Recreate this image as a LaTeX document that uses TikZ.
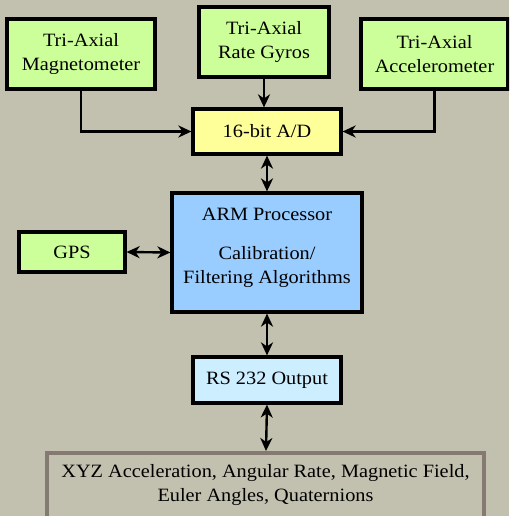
\documentclass[tikz,border=0pt]{standalone}
\usepackage{fontspec}
\setmainfont{Liberation Serif}[FakeStretch=1.08]
\usetikzlibrary{arrows.meta}
\definecolor{bg}{RGB}{194,192,174}
\definecolor{grn}{RGB}{204,255,153}
\definecolor{yel}{RGB}{255,255,153}
\definecolor{blu}{RGB}{153,204,255}
\definecolor{lblu}{RGB}{204,238,255}
\definecolor{gbord}{RGB}{133,122,114}
\tikzset{
  txt/.style={font=\fontsize{18.8}{24}\selectfont},
  blk/.style={draw=black, line width=3.2pt, inner sep=0pt, align=center, txt},
  tip/.tip={Stealth[length=13pt,width=12pt,inset=4pt]},
  conn/.style={line width=2.4pt, -tip},
  dconn/.style={line width=2.4pt, tip-tip},
}
\begin{document}
\begin{tikzpicture}[x=1pt,y=-1pt]
\useasboundingbox (0,0) rectangle (509,516);
\fill[bg] (0,0) rectangle (509,516);
\clip (0,0) rectangle (509,516);
\node[blk, fill=grn, minimum width=148pt, minimum height=70pt] (mag) at (81,54) {Tri-Axial\\Magnetometer};
\node[blk, fill=grn, minimum width=130pt, minimum height=70pt] (gyr) at (264,42) {Tri-Axial\\Rate Gyros};
\node[blk, fill=grn, minimum width=147pt, minimum height=70pt] (acc) at (434.5,54) {Tri-Axial\\Accelerometer};
\node[blk, fill=yel, minimum width=148pt, minimum height=45pt] (ad) at (267,131.5) {16-bit A/D};
\node[blk, fill=blu, minimum width=190pt, minimum height=119pt] (arm) at (267,252.5) {};
\node[txt] (armt) at (267,214) {ARM Processor};
\node[txt, align=center] (algt) at (267,267) {Calibration/\\Filtering Algorithms};
\node[blk, fill=grn, minimum width=106pt, minimum height=40pt] (gps) at (72,252) {GPS};
\node[blk, fill=lblu, minimum width=148pt, minimum height=46pt] (rs) at (267,380) {RS 232 Output};
\draw[draw=gbord, line width=3.2pt, fill=bg] (47,453) rectangle (484,540);
\node[txt, align=center] (out) at (265.5,485) {XYZ Acceleration, Angular Rate, Magnetic Field,\\Euler Angles, Quaternions};
\coordinate (outtop) at (266,451);
\draw[conn] (mag.south) |- (ad.west);
\draw[conn] (acc.south) |- (ad.east);
\draw[conn] (gyr.south) -- (gyr.south |- ad.north);
\draw[dconn] (ad.south) -- (arm.north);
\draw[dconn] (gps.east) -- (arm.west);
\draw[dconn] (arm.south) -- (rs.north);
\draw[dconn] (rs.south) -- (outtop);
\end{tikzpicture}
\end{document}
